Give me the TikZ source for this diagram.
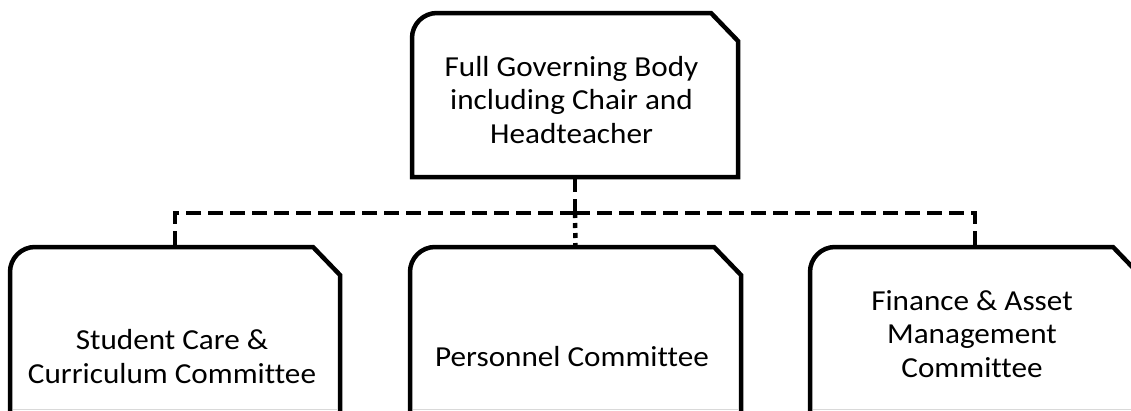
\documentclass[tikz,border=0pt]{standalone}
\usepackage{fontspec}
\setmainfont{Carlito}[Ligatures=NoCommon,FakeStretch=1.075]
\begin{document}
\begin{tikzpicture}[x=1pt,y=-1pt,
  every node/.style={inner sep=0pt,outer sep=0pt},
  frame/.style={draw=none,rectangle,minimum width=#1},
  outline/.style={line width=4.5pt,line join=miter},
  label/.style={align=center,font=\fontsize{29}{33.5}\selectfont,anchor=base},
  dashlink/.style={line width=4.5pt,dash pattern=on 15pt off 7pt},
  dotlink/.style={line width=4.5pt,dash pattern=on 5pt off 5pt}]
\useasboundingbox (0,0) rectangle (1131,410);
\clip (0,0) rectangle (1131,410);

% box frames (top box, then the three committees)
\node[frame=326, minimum height=164] (b0) at (575,95) {};
\node[frame=330, minimum height=193] (b1) at (175,343.5) {};
\node[frame=331, minimum height=193] (b2) at (575.5,343.5) {};
\node[frame=330, minimum height=193] (b3) at (975,343.5) {};

% light rule along the lower edge of the committee boxes
\foreach \b in {b1,b2,b3}
  \draw[gray!30,line width=1pt] ([xshift=3pt]\b.west |- 0,409.5) -- ([xshift=-3pt]\b.east |- 0,409.5);

% outlines: rounded top-left corner, clipped top-right corner
\foreach \b in {b0,b1,b2,b3}
  \draw[outline] (\b.south west) -- ([yshift=-25pt]\b.north west)
      arc[start angle=180,end angle=90,radius=25pt]
      -- ([xshift=-27pt]\b.north east) -- ([yshift=-28pt]\b.north east)
      -- (\b.south east) -- cycle;

% labels
\node[label] (t0) at (571.5,143) {Full Governing Body\\including Chair and\\Headteacher};
\node[label] (t1) at (172,383) {Student Care \&\\Curriculum Committee};
\node[label] (t2) at (572,366) {Personnel Committee};
\node[label] (t3) at (972,377) {Finance \& Asset\\Management\\Committee};

% connectors
\coordinate (hub) at (b0.south |- 0,213);
\draw[dashlink] (b0.south) -- (hub);
\draw[dotlink] (hub) -- (b2.north);
\draw[dashlink] (hub) -| (b1.north);
\draw[dashlink] (hub) -| (b3.north);
\end{tikzpicture}
\end{document}
